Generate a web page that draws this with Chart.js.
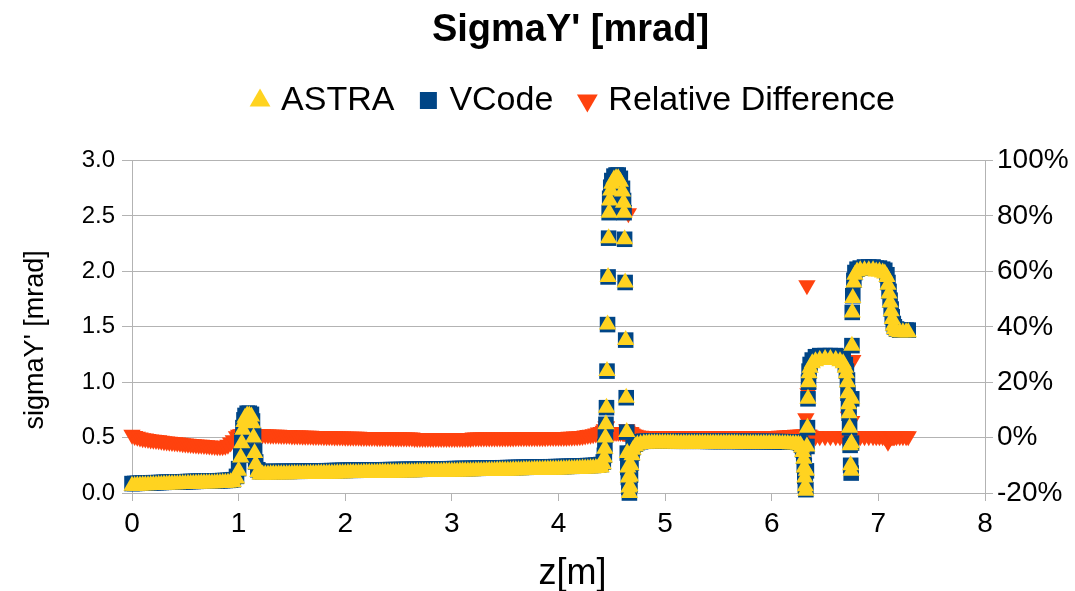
<!DOCTYPE html>
<html>
<head>
<meta charset="utf-8">
<script src="https://cdn.jsdelivr.net/npm/chart.js@4.4.1/dist/chart.umd.min.js"></script>
<style>
  html, body { margin: 0; padding: 0; background: #ffffff; }
  #wrap { width: 1075px; height: 591px; }
</style>
</head>
<body>
<div id="wrap"><canvas id="c" width="1075" height="591"></canvas></div>
<script>
// ---- data ----
const chartTitle = "SigmaY' [mrad]";
const seriesNames = ["ASTRA", "VCode", "Relative Difference"];
const xTitle = "z[m]";
const yTitle = "sigmaY' [mrad]";

const zs = [
  // 0 .. 0.95
  0,0.025,0.05,0.075,0.1,0.125,0.15,0.175,0.2,0.225,
  0.25,0.275,0.3,0.325,0.35,0.375,0.4,0.425,0.45,0.475,
  0.5,0.525,0.55,0.575,0.6,0.625,0.65,0.675,0.7,0.725,
  0.75,0.775,0.8,0.825,0.85,0.875,0.9,0.925,0.95,
  // first peak
  0.98,1.00,1.02,1.03,1.04,1.05,1.06,1.08,1.10,1.12,1.13,1.14,1.15,1.16,1.18,
  // 1.2 .. 4.4
  1.200,1.225,1.250,1.275,1.300,1.325,1.350,1.375,
  1.400,1.425,1.450,1.475,1.500,1.525,1.550,1.575,
  1.600,1.625,1.650,1.675,1.700,1.725,1.750,1.775,
  1.800,1.825,1.850,1.875,1.900,1.925,1.950,1.975,
  2.000,2.025,2.050,2.075,2.100,2.125,2.150,2.175,
  2.200,2.225,2.250,2.275,2.300,2.325,2.350,2.375,
  2.400,2.425,2.450,2.475,2.500,2.525,2.550,2.575,
  2.600,2.625,2.650,2.675,2.700,2.725,2.750,2.775,
  2.800,2.825,2.850,2.875,2.900,2.925,2.950,2.975,
  3.000,3.025,3.050,3.075,3.100,3.125,3.150,3.175,
  3.200,3.225,3.250,3.275,3.300,3.325,3.350,3.375,
  3.400,3.425,3.450,3.475,3.500,3.525,3.550,3.575,
  3.600,3.625,3.650,3.675,3.700,3.725,3.750,3.775,
  3.800,3.825,3.850,3.875,3.900,3.925,3.950,3.975,
  4.000,4.025,4.050,4.075,4.100,4.125,4.150,4.175,
  4.200,4.225,4.250,4.275,4.300,4.325,4.350,4.375,
  4.400,
  // second peak
  4.42,4.43,4.435,4.44,4.445,4.45,4.455,4.46,4.465,4.47,
  4.475,4.48,4.49,4.50,4.52,4.54,4.56,4.58,4.60,4.61,
  4.615,4.62,4.625,4.63,4.635,4.64,4.645,4.65,4.655,4.66,
  4.665,4.67,4.675,4.68,4.69,4.70,4.72,4.74,4.77,4.80,
  // plateau
  4.825,4.850,4.875,4.900,4.925,4.950,4.975,
  5.000,5.025,5.050,5.075,5.100,5.125,5.150,5.175,
  5.200,5.225,5.250,5.275,5.300,5.325,5.350,5.375,
  5.400,5.425,5.450,5.475,5.500,5.525,5.550,5.575,
  5.600,5.625,5.650,5.675,5.700,5.725,5.750,5.775,
  5.800,5.825,5.850,5.875,5.900,5.925,5.950,5.975,
  6.000,6.025,6.050,6.075,6.100,6.125,6.150,6.175,
  6.200,6.225,6.250,
  // two arches
  6.27,6.28,6.29,6.30,6.305,6.31,6.315,6.32,6.325,6.33,
  6.335,6.34,6.345,6.35,6.36,6.38,6.41,6.45,6.50,6.55,
  6.60,6.64,6.67,6.69,6.70,6.71,6.715,6.72,6.725,6.73,
  6.735,6.74,6.745,6.748,6.75,6.752,6.755,6.76,6.77,6.78,
  6.80,6.83,6.87,6.91,6.95,6.98,7.01,7.04,7.06,7.08,
  7.09,7.10,7.11,7.12,7.13,7.14,7.15,7.17,7.20,7.23,
  7.26,7.28
];

const astra = [
  .065,.066,.067,.068,.069,.070,.071,.072,.073,.073,
  .074,.075,.076,.077,.078,.078,.079,.080,.081,.081,
  .082,.083,.084,.084,.085,.086,.087,.087,.088,.088,
  .089,.089,.090,.091,.092,.093,.094,.096,.100,
  .13,.20,.32,.45,.57,.64,.68,.70,.70,.69,.63,.50,.36,.26,.19,
  .168,.168,.168,.168,.169,.169,.169,.169,
  .170,.170,.170,.170,.171,.171,.171,.171,
  .172,.172,.173,.173,.174,.174,.175,.175,
  .175,.176,.176,.177,.177,.178,.178,.179,
  .179,.180,.180,.180,.180,.181,.181,.182,
  .182,.183,.183,.183,.183,.184,.184,.185,
  .185,.186,.186,.186,.186,.187,.187,.188,
  .188,.188,.188,.189,.189,.190,.190,.190,
  .190,.191,.191,.192,.192,.193,.193,.194,
  .194,.195,.195,.196,.196,.196,.196,.197,
  .197,.198,.198,.199,.199,.200,.200,.201,
  .201,.202,.202,.203,.203,.204,.204,.205,
  .205,.206,.206,.207,.207,.208,.208,.209,
  .209,.210,.210,.211,.211,.212,.212,.213,
  .213,.214,.214,.215,.216,.216,.217,.218,
  .219,.220,.221,.222,.223,.224,.226,.228,
  .232,
  .26,.32,.40,.50,.62,.77,1.10,1.52,1.95,2.30,
  2.53,2.64,2.73,2.79,2.83,2.84,2.84,2.81,2.72,2.62,
  2.53,2.29,1.90,1.38,0.86,0.55,0.36,0.23,0.14,0.05,
  0.00,0.06,0.15,0.25,0.34,0.39,0.42,0.435,0.443,0.447,
  .447,.448,.448,.448,.448,.448,.448,
  .448,.448,.448,.448,.447,.447,.447,.447,
  .447,.447,.447,.447,.447,.447,.447,.447,
  .446,.446,.446,.446,.446,.446,.446,.446,
  .446,.446,.446,.446,.445,.445,.445,.445,
  .445,.445,.445,.445,.445,.445,.444,.444,
  .444,.444,.444,.443,.443,.443,.442,.441,
  .440,.439,.437,
  .43,.41,.37,.31,.23,.14,.06,.02,.20,.42,
  .59,.85,1.00,1.08,1.13,1.17,1.19,1.20,1.21,1.21,
  1.20,1.19,1.17,1.13,1.08,1.00,.90,.80,.72,.59,
  .43,.25,.20,.45,.85,1.33,1.63,1.76,1.90,1.97,
  2.00,2.01,2.01,2.01,2.01,2.00,2.00,1.99,1.98,1.95,
  1.88,1.80,1.72,1.64,1.57,1.51,1.48,1.46,1.45,1.45,
  1.45,1.45
];

const vcode = [
  .085,.086,.087,.088,.089,.090,.091,.092,.093,.093,
  .094,.095,.096,.097,.098,.098,.099,.100,.101,.101,
  .102,.103,.104,.104,.105,.106,.107,.107,.108,.108,
  .109,.109,.110,.111,.112,.113,.114,.116,.120,
  .15,.22,.34,.47,.59,.66,.70,.72,.72,.71,.65,.52,.38,.28,.21,
  .193,.193,.193,.193,.194,.194,.194,.194,
  .195,.195,.195,.195,.196,.196,.196,.196,
  .197,.197,.198,.198,.199,.199,.200,.200,
  .200,.201,.201,.202,.202,.203,.203,.204,
  .204,.205,.205,.205,.205,.206,.206,.207,
  .207,.208,.208,.208,.208,.209,.209,.210,
  .210,.211,.211,.211,.211,.212,.212,.213,
  .213,.213,.213,.214,.214,.215,.215,.215,
  .215,.216,.216,.217,.217,.218,.218,.219,
  .219,.220,.220,.221,.221,.221,.221,.222,
  .222,.223,.223,.224,.224,.225,.225,.226,
  .226,.227,.227,.228,.228,.229,.229,.230,
  .230,.231,.231,.232,.232,.233,.233,.234,
  .234,.235,.235,.236,.236,.237,.237,.238,
  .238,.239,.239,.240,.241,.241,.242,.243,
  .244,.245,.246,.247,.248,.249,.251,.253,
  .257,
  .28,.34,.42,.52,.62,.77,1.10,1.52,1.95,2.30,
  2.53,2.66,2.76,2.82,2.86,2.87,2.87,2.84,2.75,2.64,
  2.53,2.29,1.90,1.38,0.86,0.55,0.36,0.23,0.14,0.05,
  0.00,0.07,0.16,0.27,0.36,0.41,0.44,0.455,0.463,0.467,
  .467,.468,.468,.468,.468,.468,.468,
  .468,.468,.468,.468,.467,.467,.467,.467,
  .467,.467,.467,.467,.467,.467,.467,.467,
  .466,.466,.466,.466,.466,.466,.466,.466,
  .466,.466,.466,.466,.465,.465,.465,.465,
  .465,.465,.465,.465,.465,.465,.464,.464,
  .464,.464,.464,.463,.463,.463,.462,.461,
  .460,.459,.457,
  .45,.43,.39,.33,.25,.15,.07,.03,.20,.42,
  .59,.85,1.00,1.10,1.16,1.20,1.23,1.24,1.24,1.24,
  1.24,1.23,1.21,1.16,1.10,1.02,.90,.80,.72,.59,
  .43,.25,.18,.45,.85,1.33,1.63,1.78,1.92,1.99,
  2.02,2.03,2.04,2.04,2.04,2.03,2.03,2.02,2.01,1.97,
  1.90,1.82,1.74,1.66,1.59,1.53,1.50,1.48,1.47,1.47,
  1.47,1.47
];

// relative difference in percent (right axis)
const relDiff = [
  1.0,0.6,0.3,0.0,-0.2,-0.35,-0.5,-0.65,-0.8,-0.9,
  -1.0,-1.15,-1.3,-1.4,-1.5,-1.6,-1.7,-1.8,-1.9,-2.0,
  -2.1,-2.2,-2.3,-2.4,-2.5,-2.55,-2.6,-2.7,-2.8,-2.85,
  -2.9,-3.0,-3.1,-3.1,-3.1,-2.9,-2.6,-1.8,-1.0,
  0.5,1.0,1.2,1.2,1.2,1.2,1.2,1.2,1.2,1.2,1.2,1.2,1.2,1.2,1.2,
  1.2,1.2,1.1,1.1,1.0,1.0,1.0,1.0,
  0.9,0.9,0.9,0.9,0.8,0.8,0.8,0.8,
  0.7,0.7,0.7,0.7,0.6,0.6,0.6,0.6,
  0.5,0.5,0.5,0.5,0.4,0.4,0.4,0.4,
  0.3,0.3,0.3,0.3,0.3,0.3,0.2,0.2,
  0.2,0.2,0.2,0.2,0.1,0.1,0.1,0.1,
  0.1,0.1,0.0,0.0,0.0,0.0,0.0,0.0,
  0.0,0.0,-0.1,-0.1,-0.1,-0.1,-0.1,-0.1,
  -0.1,-0.1,-0.1,-0.1,-0.1,-0.1,-0.1,-0.1,
  -0.1,-0.1,-0.1,-0.1,-0.1,-0.1,-0.1,-0.1,
  0.0,0.0,0.0,0.0,0.0,0.0,0.0,0.0,
  0.0,0.0,0.0,0.0,0.0,0.0,0.0,0.0,
  0.1,0.1,0.1,0.1,0.1,0.1,0.1,0.1,
  0.1,0.1,0.1,0.1,0.2,0.2,0.2,0.2,
  0.2,0.2,0.2,0.2,0.3,0.3,0.4,0.4,
  0.5,0.6,0.8,0.9,1.0,1.2,1.5,1.8,
  2.0,
  2.5,3.0,2.5,2.0,4.0,4.0,2.0,2.0,2.0,2.0,
  2.0,2.0,2.0,2.0,2.0,2.0,2.0,2.0,2.0,2.0,
  2.0,2.0,2.0,2.0,2.0,3.0,2.5,2.0,81.0,2.0,
  2.0,2.0,2.0,1.8,1.5,1.2,1.0,0.8,0.7,0.6,
  0.6,0.6,0.6,0.6,0.6,0.6,0.5,
  0.5,0.5,0.5,0.5,0.5,0.5,0.5,0.5,
  0.5,0.5,0.5,0.5,0.5,0.5,0.5,0.5,
  0.5,0.5,0.5,0.5,0.5,0.5,0.5,0.5,
  0.5,0.5,0.5,0.5,0.5,0.5,0.5,0.5,
  0.5,0.5,0.5,0.5,0.5,0.5,0.6,0.6,
  0.6,0.6,0.6,0.7,0.7,0.8,0.8,0.9,
  0.9,1.0,1.0,
  1.0,1.0,1.0,1.0,1.0,1.0,1.0,7.0,1.0,55.0,
  1.0,16.0,1.0,1.0,0.8,0.5,0.5,0.5,0.5,0.5,
  0.5,0.5,0.5,0.5,0.5,0.5,0.5,7.5,0.5,0.5,
  0.5,0.5,0.5,0.5,6.0,0.5,0.5,28.0,0.5,0.5,
  0.5,0.5,0.5,0.5,0.5,0.5,0.5,0.5,0.5,-0.5,
  -1.5,-0.5,0.5,0.5,0.5,0.5,0.5,0.5,0.5,0.5,
  0.5,0.5
];

const xTicks = [0,1,2,3,4,5,6,7,8];
const yTicks = [0,0.5,1,1.5,2,2.5,3];
const y2Ticks = [-20,0,20,40,60,80,100];

// ---- chart ----
const FONT = "'Liberation Sans', Arial, sans-serif";
const GRID = '#b3b3b3';
const pts = (vals) => zs.map((z, i) => ({ x: z, y: vals[i] }));

// extra room below the legend, and a small shift of the legend row
const legendSpacer = {
  id: 'legendSpacer',
  beforeInit(chart) {
    const fit = chart.legend.fit;
    chart.legend.fit = function () {
      fit.call(this);
      this.height += 33;
      if (this.lineWidths && this.lineWidths.length) this.lineWidths[0] -= 10;
    };
  }
};

// nudge the axis titles the way they sit in the reference
const titleNudge = {
  id: 'titleNudge',
  beforeDraw(chart) {
    const shift = { x: [14, 0], y: [0, 13] };
    Object.keys(shift).forEach((id) => {
      const sc = chart.scales[id];
      if (!sc || sc._nudged) return;
      const orig = sc.drawTitle;
      sc.drawTitle = function () {
        this.ctx.save();
        this.ctx.translate(shift[id][0], shift[id][1]);
        orig.apply(this, arguments);
        this.ctx.restore();
      };
      sc._nudged = true;
    });
  }
};

new Chart(document.getElementById('c'), {
  type: 'scatter',
  plugins: [legendSpacer, titleNudge],
  data: {
    datasets: [
      { label: seriesNames[0], data: pts(astra), yAxisID: 'y', clip: false,
        pointStyle: 'triangle', pointRadius: 10, backgroundColor: '#FFD320',
        borderColor: '#FFD320', borderWidth: 0 },
      { label: seriesNames[1], data: pts(vcode), yAxisID: 'y', clip: false,
        pointStyle: 'rect', pointRadius: 11, backgroundColor: '#004586',
        borderColor: '#004586', borderWidth: 0 },
      { label: seriesNames[2], data: pts(relDiff), yAxisID: 'y1', clip: false,
        pointStyle: 'triangle', pointRotation: 180, pointRadius: 10,
        backgroundColor: '#FF420E', borderColor: '#FF420E', borderWidth: 0 }
    ]
  },
  options: {
    responsive: false,
    animation: false,
    events: [],
    devicePixelRatio: 1,
    layout: { padding: { left: 66, right: 0, top: 0, bottom: 0 } },
    plugins: {
      title: {
        display: true, text: chartTitle, color: '#000',
        font: { family: FONT, size: 38, weight: 'bold', lineHeight: 1.2 },
        padding: { top: 8, bottom: 0 }
      },
      legend: {
        display: true, position: 'top',
        labels: {
          usePointStyle: true, boxWidth: 8, boxHeight: 17, padding: 30,
          color: '#000', font: { family: FONT, size: 34 }
        }
      },
      tooltip: { enabled: false }
    },
    scales: {
      x: {
        type: 'linear', min: 0, max: 8,
        afterBuildTicks: (s) => { s.ticks = xTicks.map(v => ({ value: v })); },
        afterFit: (s) => { s.height = 98; },
        grid: { display: true, drawOnChartArea: false, drawTicks: true, tickLength: 8, color: GRID },
        border: { display: true, color: GRID },
        ticks: { color: '#000', padding: 6,
          font: { family: "'Liberation Sans Narrow', " + FONT, size: 28 } },
        title: { display: true, text: xTitle, color: '#000',
          font: { family: FONT, size: 36, lineHeight: 1.0 }, padding: { top: 0, bottom: -1 } }
      },
      y: {
        type: 'linear', position: 'left', min: 0, max: 3,
        afterBuildTicks: (s) => { s.ticks = yTicks.map(v => ({ value: v })); },
        afterFit: (s) => { s.width = 66; },
        grid: { color: GRID, tickLength: 10, drawTicks: true },
        border: { display: true, color: GRID },
        ticks: { color: '#000', padding: 7, font: { family: FONT, size: 24 },
          callback: (v) => Number(v).toFixed(1) },
        title: { display: true, text: yTitle, color: '#000',
          font: { family: FONT, size: 27, lineHeight: 1.2 }, padding: { top: -47, bottom: 0 } }
      },
      y1: {
        type: 'linear', position: 'right', min: -20, max: 100,
        afterBuildTicks: (s) => { s.ticks = y2Ticks.map(v => ({ value: v })); },
        afterFit: (s) => { s.width = 90; },
        grid: { drawOnChartArea: false, drawTicks: true, tickLength: 8, color: GRID },
        border: { display: true, color: GRID },
        ticks: { color: '#000', padding: 4, font: { family: FONT, size: 28 },
          callback: (v) => v + '%' }
      }
    }
  }
});
</script>
</body>
</html>
